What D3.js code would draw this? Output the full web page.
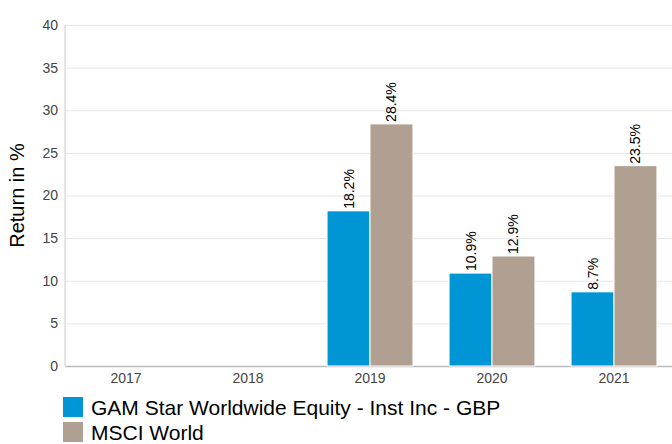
<!DOCTYPE html>
<html>
<head>
<meta charset="utf-8">
<script src="https://cdn.jsdelivr.net/npm/d3@7"></script>
<style>
  body { margin: 0; background: #fff; }
  svg { font-family: 'Liberation Sans', Arial, sans-serif; display: block; }
</style>
</head>
<body>
<div id="wrapper"></div>
<script>
// data
const years = ['2017', '2018', '2019', '2020', '2021']
const fundValues = [null, null, 18.2, 10.9, 8.7]
const indexValues = [null, null, 28.4, 12.9, 23.5]
const seriesNames = ['GAM Star Worldwide Equity - Inst Inc - GBP', 'MSCI World']
const seriesColors = ['#0096d6', '#b0a091']
const yTicks = [0, 5, 10, 15, 20, 25, 30, 35, 40]

function draw() {
  const dimensions = {
    width: 672,
    height: 444,
    margin: { top: 25, right: -3, bottom: 78, left: 65 },
  }
  dimensions.boundedWidth =
    dimensions.width - dimensions.margin.left - dimensions.margin.right
  dimensions.boundedHeight =
    dimensions.height - dimensions.margin.top - dimensions.margin.bottom

  const wrapper = d3
    .select('#wrapper')
    .append('svg')
    .attr('width', dimensions.width)
    .attr('height', dimensions.height)

  const bounds = wrapper
    .append('g')
    .attr('transform', `translate(${dimensions.margin.left}, ${dimensions.margin.top})`)

  const xScale = d3
    .scaleBand()
    .domain(years)
    .range([0, dimensions.boundedWidth])

  // two bars inside each year band
  const innerScale = d3
    .scaleBand()
    .domain([0, 1])
    .range([0, xScale.bandwidth()])
    .paddingOuter(0.42)
    .paddingInner(0)

  const yScale = d3
    .scaleLinear()
    .domain([0, 40])
    .range([dimensions.boundedHeight, 0])

  // gridlines
  bounds
    .append('g')
    .selectAll('line')
    .data(yTicks.slice(1))
    .join('line')
    .attr('x1', 0)
    .attr('x2', dimensions.boundedWidth)
    .attr('y1', (d) => yScale(d) + 0.5)
    .attr('y2', (d) => yScale(d) + 0.5)
    .attr('stroke', '#e6e6e6')

  // y axis
  const yAxis = bounds
    .append('g')
    .call(d3.axisLeft(yScale).tickValues(yTicks).tickSize(0).tickPadding(7))
  yAxis.select('.domain').attr('stroke', '#cccccc').attr('transform', 'translate(-0.5,0)')
  yAxis.selectAll('text').attr('fill', '#444').style('font-size', '14px')
    .style('font-family', "'Liberation Sans', Arial, sans-serif")

  // x axis
  const xAxis = bounds
    .append('g')
    .attr('transform', `translate(0, ${dimensions.boundedHeight})`)
    .call(d3.axisBottom(xScale).tickSize(0).tickPadding(7))
  xAxis.select('.domain').attr('stroke', '#bbbbbb').attr('stroke-width', 1.5)
  xAxis.selectAll('text').attr('fill', '#444').style('font-size', '14px')
    .style('font-family', "'Liberation Sans', Arial, sans-serif")

  // bars
  const rows = []
  years.forEach((y, i) => {
    ;[fundValues[i], indexValues[i]].forEach((v, s) => {
      if (v != null) rows.push({ year: y, series: s, value: v })
    })
  })

  const barGroup = bounds.append('g')
  barGroup
    .selectAll('rect')
    .data(rows)
    .join('rect')
    .attr('x', (d) => xScale(d.year) + innerScale(d.series))
    .attr('y', (d) => yScale(d.value))
    .attr('width', innerScale.bandwidth())
    .attr('height', (d) => dimensions.boundedHeight - yScale(d.value))
    .attr('fill', (d) => seriesColors[d.series])
    .attr('stroke', '#ffffff')
    .attr('stroke-width', 1)

  // value labels, rotated
  barGroup
    .selectAll('text')
    .data(rows)
    .join('text')
    .attr('transform', (d) => {
      const cx = xScale(d.year) + innerScale(d.series) + innerScale.bandwidth() / 2 + 5
      return `translate(${cx}, ${yScale(d.value) - 2}) rotate(-90)`
    })
    .style('font-size', '14px')
    .attr('fill', '#000')
    .text((d) => d3.format('.1f')(d.value) + '%')

  // y axis label
  wrapper
    .append('text')
    .attr('transform', `translate(24, ${dimensions.margin.top + dimensions.boundedHeight / 2}) rotate(-90)`)
    .attr('text-anchor', 'middle')
    .style('font-size', '20px')
    .attr('fill', '#000')
    .text('Return in %')

  // legend
  const legend = wrapper
    .append('g')
    .attr('transform', 'translate(63, 397)')
  const items = legend
    .selectAll('g')
    .data(seriesNames)
    .join('g')
    .attr('transform', (d, i) => `translate(0, ${i * 25})`)
  items
    .append('rect')
    .attr('width', 20)
    .attr('height', 20)
    .attr('fill', (d, i) => seriesColors[i])
  items
    .append('text')
    .attr('x', 28)
    .attr('y', 18)
    .style('font-size', '21px')
    .attr('fill', '#000')
    .text((d) => d)
}
draw()
</script>
</body>
</html>
